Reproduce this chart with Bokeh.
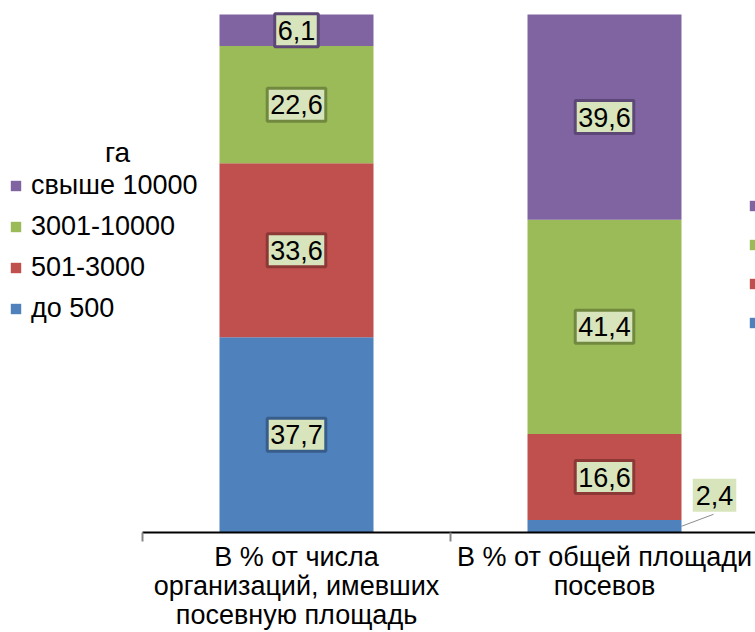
from bokeh.plotting import figure
from bokeh.models import (ColumnDataSource, Range1d, FixedTicker, Legend, LegendItem, Label,
                          LinearAxis)
from bokeh.embed import file_html
from bokeh.resources import INLINE

# ---- data ----
categories = ["В % от числа\nорганизаций, имевших\nпосевную площадь",
              "В % от общей площади\nпосевов"]
groups = ["до 500", "501-3000", "3001-10000", "свыше 10000"]
do_500 = [37.7, 2.4]
s501_3000 = [33.6, 16.6]
s3001_10000 = [22.6, 41.4]
over_10000 = [6.1, 39.6]
legend_title = "га"

# ---- styles ----
FONT = "Liberation Sans"
FS = "27px"
colors = ["#4f81bd", "#c0504d", "#9bbb59", "#8064a2"]
borders = ["#385d8a", "#8c3836", "#71893f", "#5c4776"]
box_fill = "#d8e4bc"

W, H = 755, 632
PX_CAT = 308.0          # px per category
PX_PCT = 5.18           # px per percent
axis_start_px = 142.0   # from frame left to first category edge
top_gap_px = 14.0
x_start = -axis_start_px / PX_CAT
x_end = (W - axis_start_px) / PX_CAT
y_end = 100 + top_gap_px / PX_PCT
y_start = y_end - H / PX_PCT

series = [do_500, s501_3000, s3001_10000, over_10000]
keys = ["s0", "s1", "s2", "s3"]
xs = [i + 0.5 for i in range(len(categories))]
data = dict(x=xs)
for k, s in zip(keys, series):
    data[k] = s
src = ColumnDataSource(data)

p = figure(width=W, height=H, x_range=Range1d(x_start, x_end), y_range=Range1d(y_start, y_end),
           output_backend="svg", toolbar_location=None, y_axis_location=None, x_axis_location=None,
           min_border_left=0, min_border_right=0, min_border_top=0, min_border_bottom=0)
p.xgrid.visible = False
p.ygrid.visible = False
p.outline_line_color = None

BAR_W = 0.5
rs = p.vbar_stack(keys, x="x", width=BAR_W, color=colors, line_color=None, source=src)

# baseline of category axis
p.segment(x0=[0], y0=[0], x1=[x_end], y1=[0], line_color="#000000", line_width=2)

ax = LinearAxis(fixed_location=0)
ax.ticker = FixedTicker(ticks=xs, minor_ticks=list(range(len(categories) + 1)))
ax.major_label_overrides = {x: c for x, c in zip(xs, categories)}
ax.axis_line_color = None
ax.major_tick_line_color = None
ax.major_tick_in = 0
ax.major_tick_out = 0
ax.minor_tick_in = 0
ax.minor_tick_out = 9
ax.minor_tick_line_color = "#868686"
ax.minor_tick_line_width = 2
ax.major_label_standoff = 0
ax.major_label_text_font = FONT
ax.major_label_text_font_size = FS
ax.major_label_text_color = "#000000"
ax.major_label_text_line_height = 0.98
p.add_layout(ax, "below")

# legends (location = bottom-left of legend, from frame bottom-left)
items_l = [LegendItem(label=groups[i], renderers=[rs[i]]) for i in reversed(range(4))]
leg_l = Legend(items=items_l, location=(9, H - 329), orientation="vertical",
               glyph_width=13, glyph_height=13, label_standoff=9, spacing=0,
               label_height=41, padding=0, margin=0,
               border_line_color=None, background_fill_alpha=0,
               label_text_font=FONT, label_text_font_size=FS, label_text_color="#000000")
p.add_layout(leg_l)

items_r = [LegendItem(label=" ", renderers=[rs[i]]) for i in reversed(range(4))]
leg_r = Legend(items=items_r, location=(748, H - 342), orientation="vertical",
               glyph_width=13, glyph_height=13, label_standoff=9, spacing=0,
               label_height=39, padding=0, margin=0,
               border_line_color=None, background_fill_alpha=0,
               label_text_font=FONT, label_text_font_size=FS, label_text_color="#000000")
p.add_layout(leg_r)

p.add_layout(Label(x=(117 - 142) / PX_CAT, y=(532 - 152) / PX_PCT, text=legend_title,
                   text_align="center", text_baseline="middle",
                   text_font=FONT, text_font_size="28px", text_color="#000000"))

# data labels
def fmt(v):
    return ("%.1f" % v).replace(".", ",")

SMALL = 5.0
for ci, xc in enumerate(xs):
    cum = 0.0
    for si, s in enumerate(series):
        v = s[ci]
        mid = cum + v / 2
        cum += v
        if v < SMALL:
            ex = xc + BAR_W / 2
            lx = ex + 33 / PX_CAT
            ly = mid + 31 / PX_PCT
            p.segment(x0=[ex], y0=[mid], x1=[ex + 32 / PX_CAT], y1=[mid + 12 / PX_PCT],
                      line_color="#8c8c8c", line_width=1)
            bcol = None
        else:
            lx, ly = xc, mid
            bcol = borders[si]
        p.add_layout(Label(x=lx, y=ly, text=fmt(v), text_align="center", text_baseline="middle",
                           text_font=FONT, text_font_size=FS, text_alpha=0,
                           background_fill_color="#000000", background_fill_alpha=0.22,
                           x_offset=3, y_offset=-3, padding=(3, 7)))
        p.add_layout(Label(x=lx, y=ly, text=fmt(v), text_align="center", text_baseline="middle",
                           text_font=FONT, text_font_size=FS, text_color="#000000",
                           background_fill_color=box_fill,
                           border_line_color=bcol, border_line_width=3, padding=(3, 7)))

open("out.html", "w").write(file_html(p, INLINE))
